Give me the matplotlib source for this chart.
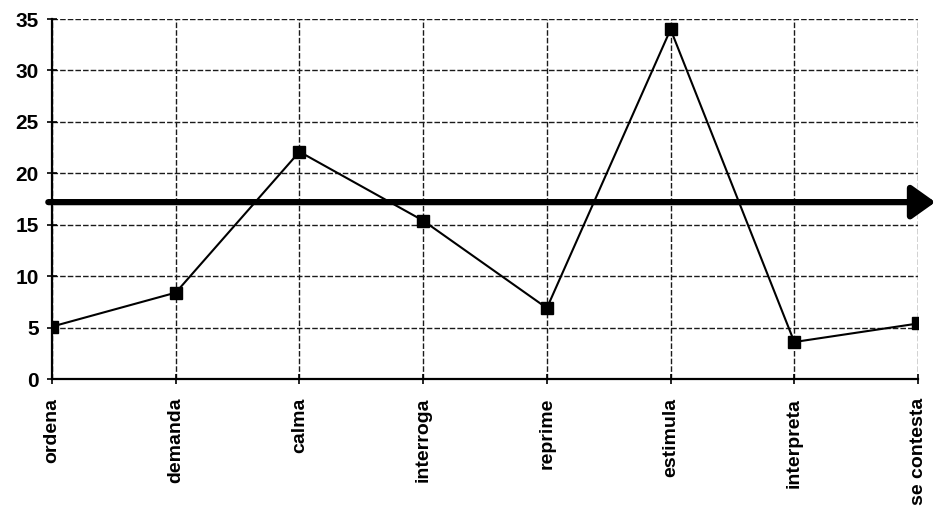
import matplotlib
matplotlib.use('Agg')
import matplotlib.pyplot as plt

plt.rcParams['font.family'] = ['Liberation Sans', 'DejaVu Sans']

# ── Data ─────────────────────────────────────────────────────────────────────
categories = ['ordena', 'demanda', 'calma', 'interroga', 'reprime',
              'estimula', 'interpreta', 'se contesta']
values = [5.1, 8.4, 22.1, 15.4, 6.9, 34.0, 3.6, 5.4]
reference_level = 17.2
y_ticks = [0, 5, 10, 15, 20, 25, 30, 35]

# ── Figure ───────────────────────────────────────────────────────────────────
fig = plt.figure(figsize=(9.34, 5.15), dpi=100)
ax = fig.add_axes([0.0557, 0.264, 0.9272, 0.699])

x = list(range(len(categories)))
ax.plot(x, values, color='black', lw=1.5, marker='s', markersize=8,
        markerfacecolor='black', markeredgecolor='black', zorder=4)

# thick horizontal arrow across the plot
ax.annotate('', xy=(7.14, reference_level), xytext=(-0.03, reference_level),
            arrowprops=dict(arrowstyle='-|>,head_length=0.45,head_width=0.32',
                            color='black', lw=4.5,
                            mutation_scale=32, shrinkA=0, shrinkB=0),
            annotation_clip=False, zorder=5)

ax.set_xlim(0, len(categories) - 1)
ax.set_ylim(0, 35)
ax.set_xticks(x)
ax.set_xticklabels(categories, rotation=90, fontsize=14, fontweight='bold',
                   va='top')
ax.set_yticks(y_ticks)
ax.set_yticklabels([str(t) for t in y_ticks], fontsize=15, fontweight='bold')

ax.grid(True, color='#1a1a1a', linestyle=(0, (4, 1.5)), lw=1.0)
ax.set_axisbelow(True)
for s in ['top', 'right']:
    ax.spines[s].set_visible(False)
for s in ['left', 'bottom']:
    ax.spines[s].set_linewidth(1.6)
ax.tick_params(axis='both', direction='inout', length=7, width=1.2)
ax.tick_params(axis='x', pad=10)
ax.tick_params(axis='y', pad=6)

fig.savefig('out.png', dpi=100, facecolor='white')
